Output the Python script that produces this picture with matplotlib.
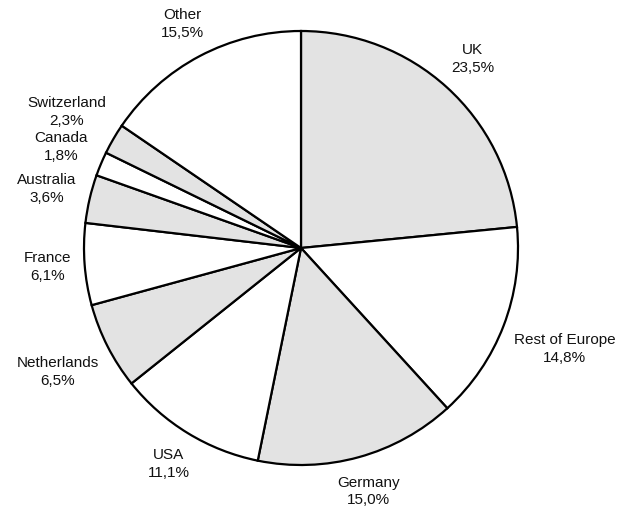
import numpy as np
import matplotlib
matplotlib.use("Agg")
import matplotlib.pyplot as plt

categories = ["UK", "Rest of Europe", "Germany", "USA", "Netherlands", "France",
              "Australia", "Canada", "Switzerland", "Other"]
shares = [23.5, 14.8, 15.0, 11.1, 6.5, 6.1, 3.6, 1.8, 2.3, 15.5]
colors = ["#e3e3e3", "white"] * 5

plt.rcParams['font.family'] = ['Liberation Sans', 'DejaVu Sans']

W, H = 621, 516
cx, cy, R = 301, 248, 217
fig = plt.figure(figsize=(W / 100, H / 100), dpi=100)
ax = fig.add_axes([0, 0, 1, 1])
ax.axis("off")

wedges, _ = ax.pie(shares, colors=colors, startangle=90, counterclock=False,
                   radius=1.0, center=(0, 0), frame=False,
                   wedgeprops=dict(edgecolor="black", linewidth=1.6))
ax.set_xlim(-cx / R, (W - cx) / R)
ax.set_ylim(-(H - cy) / R, cy / R)
ax.set_aspect("auto")

fig.canvas.draw()
renderer = fig.canvas.get_renderer()
gap = 12 / R
for w, name, val in zip(wedges, categories, shares):
    ang = np.deg2rad((w.theta1 + w.theta2) / 2)
    label = f"{name}\n{val:.1f}%".replace(".", ",")
    t = ax.text(0, 0, label, ha="center", va="center", fontsize=11,
                linespacing=1.35, color="#111111")
    bb = t.get_window_extent(renderer)
    hw, hh = bb.width / 2 / R, bb.height / 2 / R
    ext = abs(np.cos(ang)) * hw + abs(np.sin(ang)) * hh
    d = 1.0 + gap + ext
    t.set_position((d * np.cos(ang), d * np.sin(ang)))

fig.savefig("out.png", dpi=100)
